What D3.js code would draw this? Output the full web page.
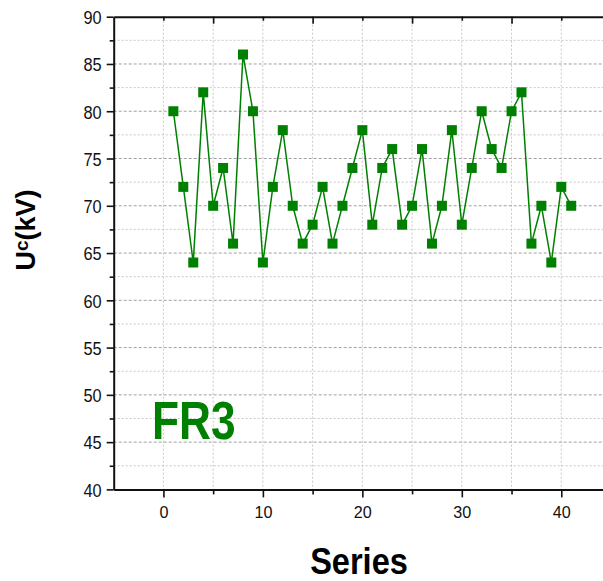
<!DOCTYPE html>
<html>
<head>
<meta charset="utf-8">
<script src="https://cdn.jsdelivr.net/npm/d3@7"></script>
<style>
  body { margin: 0; background: #fff; }
  svg { display: block; }
</style>
</head>
<body>
<svg id="chart" width="603" height="581"></svg>
<script>
// series number (x) and breakdown voltage Uc in kV (y)
let series = d3.range(1, 42);
let ucValues = [80, 72, 64, 82, 70, 74, 66, 86, 80, 64,
                72, 78, 70, 66, 68, 72, 66, 70, 74, 78,
                68, 74, 76, 68, 70, 76, 66, 70, 78, 68,
                74, 80, 76, 74, 80, 82, 66, 70, 64, 72, 70];
let xTicks = [0, 10, 20, 30, 40];
let yTicks = [40, 45, 50, 55, 60, 65, 70, 75, 80, 85, 90];

let green = "#008000";
let font = '"Liberation Sans", Arial, sans-serif';

let svg = d3.select("#chart");

// scales
let x = d3.scaleLinear().domain([-5, 45]).range([113.7, 611]);
let y = d3.scaleLinear().domain([40, 90]).range([489.4, 16.7]);

let plotL = x(-5), plotR = x(45), plotT = y(90), plotB = y(40);

// grid: vertical every 5
let gx = d3.range(0, 45, 5);
svg.append("g").selectAll("line").data(gx).enter().append("line")
    .attr("x1", d => x(d)).attr("x2", d => x(d))
    .attr("y1", plotT).attr("y2", plotB)
    .attr("stroke", "#c8c8c8").attr("stroke-width", 1)
    .attr("stroke-dasharray", "2,2");

// grid: horizontal minor (2.5 steps) and major (5 steps)
let gyMinor = d3.range(42.5, 90, 5);
svg.append("g").selectAll("line").data(gyMinor).enter().append("line")
    .attr("x1", plotL).attr("x2", plotR)
    .attr("y1", d => y(d)).attr("y2", d => y(d))
    .attr("stroke", "#c8c8c8").attr("stroke-width", 1)
    .attr("stroke-dasharray", "2,2");
let gyMajor = d3.range(45, 90, 5);
svg.append("g").selectAll("line").data(gyMajor).enter().append("line")
    .attr("x1", plotL).attr("x2", plotR)
    .attr("y1", d => y(d)).attr("y2", d => y(d))
    .attr("stroke", "#a0a0a0").attr("stroke-width", 1)
    .attr("stroke-dasharray", "3,2");

// bottom axis
let xAxis = svg.append("g").attr("transform", `translate(0,${plotB})`)
    .call(d3.axisBottom(x).tickValues(xTicks).tickSize(8).tickPadding(9).tickSizeOuter(0));
svg.append("g").attr("transform", `translate(0,${plotB})`)
    .call(d3.axisBottom(x).tickValues([5, 15, 25, 35]).tickSize(5).tickFormat("").tickSizeOuter(0))
    .select(".domain").remove();

// top axis (ticks inward)
svg.append("g").attr("transform", `translate(0,${plotT})`)
    .call(d3.axisBottom(x).tickValues([5, 15, 25, 35]).tickSize(7).tickFormat("").tickSizeOuter(0));
svg.append("g").attr("transform", `translate(0,${plotT})`)
    .call(d3.axisBottom(x).tickValues([0, 10, 20, 30, 40]).tickSize(4).tickFormat("").tickSizeOuter(0))
    .select(".domain").remove();

// left axis
let yAxis = svg.append("g").attr("transform", `translate(${plotL},0)`)
    .call(d3.axisLeft(y).tickValues(yTicks).tickSize(7).tickPadding(5).tickSizeOuter(0));
svg.append("g").attr("transform", `translate(${plotL},0)`)
    .call(d3.axisLeft(y).tickValues(d3.range(42.5, 90, 5)).tickSize(4).tickFormat("").tickSizeOuter(0))
    .select(".domain").remove();

svg.selectAll(".domain").attr("stroke", "#111").attr("stroke-width", 2);
svg.selectAll(".tick line").attr("stroke", "#111").attr("stroke-width", 1.6);

// narrow look for tick labels: squeeze horizontally
let sx = 0.95;
xAxis.selectAll("text").attr("font-family", font).attr("font-size", 17).attr("fill", "#111")
    .attr("transform", `scale(${sx},1)`);
let sy = 0.86;
yAxis.selectAll("text").attr("font-family", font).attr("font-size", 19).attr("fill", "#111")
    .attr("dy", "0.36em")
    .attr("x", -12 / sy)
    .attr("transform", `scale(${sy},1)`);

// data line
let pts = series.map((s, i) => ({ s: s, v: ucValues[i] }));
svg.append("path")
    .datum(pts)
    .attr("fill", "none")
    .attr("stroke", green)
    .attr("stroke-width", 1.5)
    .attr("d", d3.line().x(d => x(d.s)).y(d => y(d.v)));

// markers
let m = 10;
svg.append("g").selectAll("rect").data(pts).enter().append("rect")
    .attr("x", d => x(d.s) - m / 2)
    .attr("y", d => y(d.v) - m / 2)
    .attr("width", m).attr("height", m)
    .attr("fill", green);

// sample label
svg.append("text")
    .attr("transform", "translate(152,439) scale(0.82,1)")
    .attr("font-family", font).attr("font-weight", "bold")
    .attr("font-size", 54).attr("fill", green)
    .text("FR3");

// axis titles
svg.append("text")
    .attr("transform", "translate(359,574) scale(0.88,1)")
    .attr("text-anchor", "middle")
    .attr("font-family", font).attr("font-weight", "bold")
    .attr("font-size", 37).attr("fill", "#000")
    .text("Series");

let yl = svg.append("text")
    .attr("transform", "translate(35,230) rotate(-90)")
    .attr("text-anchor", "middle")
    .attr("font-family", font).attr("font-weight", "bold")
    .attr("font-size", 27).attr("fill", "#000");
yl.append("tspan").text("U");
yl.append("tspan").attr("font-size", 19).attr("dy", -7).text("c");
yl.append("tspan").attr("dy", 7).text("(kV)");
</script>
</body>
</html>
